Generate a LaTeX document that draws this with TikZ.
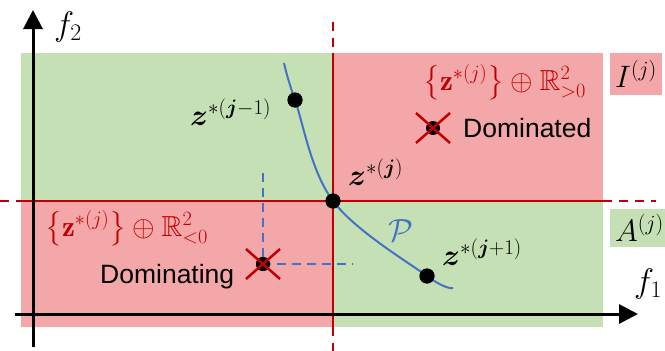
\RequirePackage{fix-cm}
\documentclass[tikz,border=0pt]{standalone}
\usepackage{amsmath,amssymb,bm}
\usepackage{fontspec}
\newfontfamily\labelfont{Liberation Sans}
\usetikzlibrary{arrows.meta}

\definecolor{feasgreen}{HTML}{C5E0B4}
\definecolor{conered}{HTML}{F4A7A8}
\definecolor{bordred}{HTML}{C00000}
\definecolor{frontblue}{HTML}{4472C4}

\begin{document}
\begin{tikzpicture}[
  x=1pt, y=-1pt,
  axis/.style={line width=3pt, -{Triangle[length=19pt,width=19pt]}},
  bound/.style={bordred, line width=2pt},
  extend/.style={bordred, line width=2pt, dash pattern=on 9pt off 7pt},
  proj/.style={frontblue, line width=2.2pt, dash pattern=on 9pt off 6pt},
  front/.style={frontblue, line width=2pt},
  sol/.style={circle, fill=black, inner sep=0pt, minimum size=15pt},
  crossmark/.style={bordred, line width=2.5pt},
  pointlbl/.style={anchor=base west, inner sep=0pt, font=\fontsize{30}{34}\selectfont},
  conelbl/.style={anchor=base west, inner sep=0pt, text=bordred, font=\fontsize{29}{34}\selectfont},
  wordlbl/.style={anchor=base west, inner sep=0pt, font=\labelfont\fontsize{26.5}{30}\selectfont},
  axislbl/.style={inner sep=0pt, font=\fontsize{34}{38}\selectfont},
  tag/.style={anchor=north west, minimum height=42pt, inner xsep=5pt, inner ysep=0pt,
              font=\fontsize{31}{36}\selectfont}
]
\useasboundingbox (0,0) rectangle (665,351);

% regions
\fill[feasgreen] (21,53) rectangle (603,327);
\fill[conered] (333,53) rectangle (603,201);
\fill[conered] (21,201) rectangle (333,327);

% boundaries through z*(j)
\draw[bound] (333,53) -- (333,327);
\draw[bound] (21,201) -- (603,201);
\draw[extend] (333,22) -- (333,53);
\draw[extend] (333,327) -- (333,351);
\draw[extend] (0,201) -- (21,201);
\draw[extend] (603,201) -- (656,201);

% axes
\coordinate (ystart) at (33,347);
\coordinate (yend) at (33,10);
\coordinate (xstart) at (15,314);
\coordinate (xend) at (638,314);
\draw[axis] (ystart) -- (yend);
\draw[axis] (xstart) -- (xend);
\node[axislbl] (f2) at (68,27) {$f_2$};
\node[axislbl] (f1) at (648,284) {$f_1$};

% side tags
\node[tag, fill=conered] (itag) at (610,53) {$I^{(j)}$};
\node[tag, fill=feasgreen, minimum height=38pt] (atag) at (610,209) {$A^{(j)}$};

% solutions and front
\node[sol] (zjm) at (295,100) {};
\node[sol] (zj) at (333,201) {};
\node[sol] (zjp) at (427,276) {};
\node[sol, minimum size=14pt] (dom) at (263,264) {};
\node[sol, minimum size=14pt] (dmd) at (433,128) {};
\coordinate (fstart) at (284,63);
\coordinate (fend) at (453,288);
\coordinate (projtop) at (263,173);
\coordinate (projright) at (353,264);
\draw[proj] (projtop) -- (dom.center) -- (projright);
\draw[front] plot[smooth, tension=0.6] coordinates {(fstart) (zjm.center) (zj.center) (zjp.center) (fend)};
\node[sol] at (zjm) {};
\node[sol] at (zj) {};
\node[sol] at (zjp) {};
\node[sol, minimum size=14pt] at (dom) {};

% crosses
\draw[crossmark] ([shift={(-17,-15)}]dom.center) -- ([shift={(17,15)}]dom.center);
\draw[crossmark] ([shift={(-17,15)}]dom.center) -- ([shift={(17,-15)}]dom.center);
\draw[crossmark] ([shift={(-17,-15)}]dmd.center) -- ([shift={(17,15)}]dmd.center);
\draw[crossmark] ([shift={(-17,15)}]dmd.center) -- ([shift={(17,-15)}]dmd.center);

% labels
\node[pointlbl] (lzjm) at (190,125) {$\bm{z}^{*(\bm{j}-1)}$};
\node[pointlbl] (lzj) at (348,185) {$\bm{z}^{*(\bm{j})}$};
\node[pointlbl] (lzjp) at (442,265) {$\bm{z}^{*(\bm{j}+1)}$};
\node[inner sep=0pt, text=frontblue, font=\fontsize{32}{36}\selectfont] (pf) at (401,231) {$\mathcal{P}$};
\node[conelbl] (upcone) at (423,90) {$\left\{\mathbf{z}^{*(j)}\right\}\oplus\mathbb{R}^2_{>0}$};
\node[conelbl] (lowcone) at (45,236) {$\left\{\mathbf{z}^{*(j)}\right\}\oplus\mathbb{R}^2_{<0}$};
\node[wordlbl] (dmdtxt) at (463,137) {Dominated};
\node[wordlbl] (domtxt) at (100,283) {Dominating};
\end{tikzpicture}
\end{document}
